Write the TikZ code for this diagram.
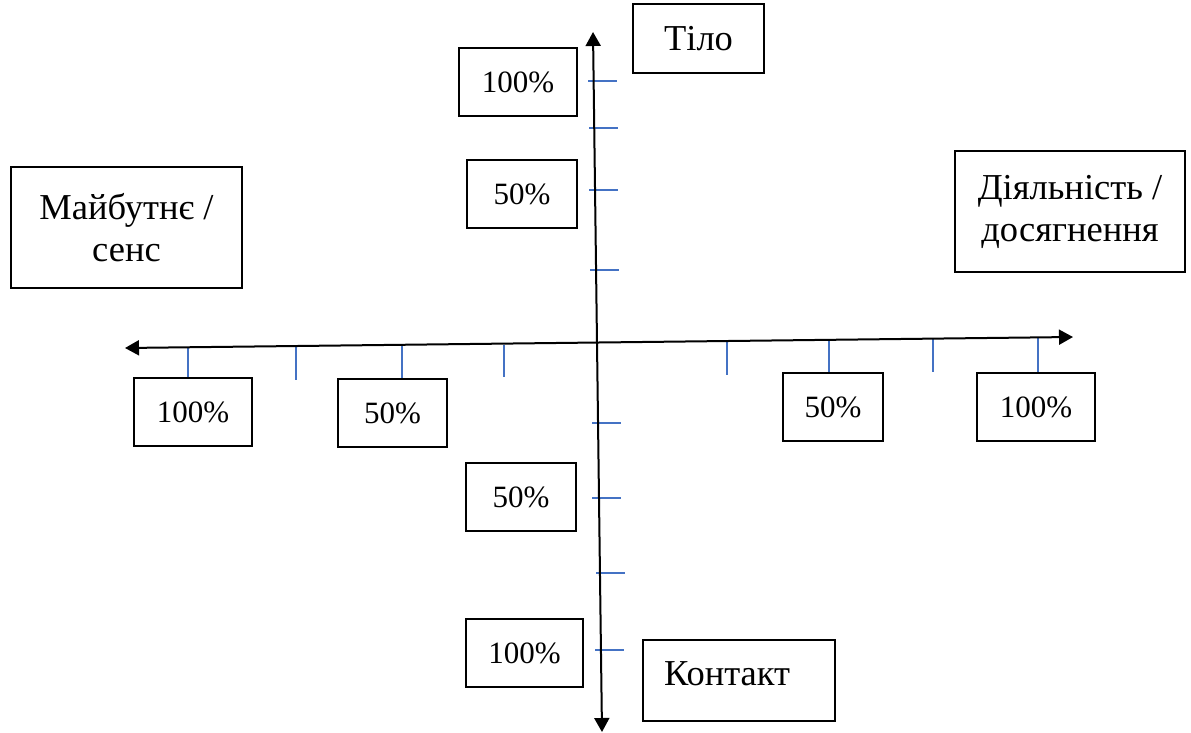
\documentclass[tikz,border=0pt]{standalone}
\usepackage{fontspec}
\setmainfont{Liberation Serif}
\usepackage{xcolor}
\usetikzlibrary{arrows.meta}

\definecolor{tickblue}{RGB}{68,114,196}

\begin{document}
\begin{tikzpicture}[x=1pt, y=-1pt, thick, >={Triangle[length=14pt, width=15pt]},
        box/.style={rectangle, draw, line width=1.5pt, inner sep=0pt, align=center},
        bigbox/.style={box, font=\fontsize{36.5}{42}\selectfont},
        pctbox/.style={box, minimum height=68pt, font=\fontsize{31}{36}\selectfont},
        tickmark/.style={draw=tickblue, line width=1.2pt}]
            \useasboundingbox (0,0) rectangle (1191,733);

            % axis ends
            \coordinate (up) at (593,32);
            \coordinate (down) at (602,732);
            \coordinate (west) at (125,348);
            \coordinate (east) at (1073,337);

            % ticks
            \foreach \y/\x in {81/588, 128/589, 190/589, 270/590, 423/592, 498/592, 573/596, 650/595}
                \draw[tickmark] (\x,\y) -- ++(29,0);
            \foreach \x/\a/\b in {188/348/377, 296/347/380, 402/346/378, 504/345/377,
                                  727/341/375, 829/340/372, 933/339/372, 1038/338/372}
                \draw[tickmark] (\x,\a) -- (\x,\b);

            \draw[<->, line width=2pt] (up) -- (down);
            \draw[<->, line width=2pt] (west) -- (east);

            % labels of the axes
            \node[bigbox, minimum width=131pt, minimum height=69pt] (tilo) at (698.5,38.5) {Тіло};
            \node[bigbox, minimum width=192pt, minimum height=81pt, text width=150pt, align=left,
                  text height=24pt, text depth=15pt] (kontakt) at (739,680.5) {Контакт};
            \node[bigbox, minimum width=231pt, minimum height=121pt] (future) at (126.5,227.5) {Майбутнє /\\сенс};
            \node[bigbox, minimum width=230pt, minimum height=121pt] (activity) at (1070,211.5) {Діяльність /\\досягнення};

            % scale boxes
            \node[pctbox, minimum width=118pt] (top100) at (518,82) {100\%};
            \node[pctbox, minimum width=110pt] (top50) at (522,194) {50\%};
            \node[pctbox, minimum width=110pt] (bot50) at (521,497) {50\%};
            \node[pctbox, minimum width=117pt] (bot100) at (524.5,653) {100\%};
            \node[pctbox, minimum width=118pt] (left100) at (193,412) {100\%};
            \node[pctbox, minimum width=109pt] (left50) at (392.5,413) {50\%};
            \node[pctbox, minimum width=100pt] (right50) at (833,407) {50\%};
            \node[pctbox, minimum width=118pt] (right100) at (1036,407) {100\%};
        \end{tikzpicture}
\end{document}
